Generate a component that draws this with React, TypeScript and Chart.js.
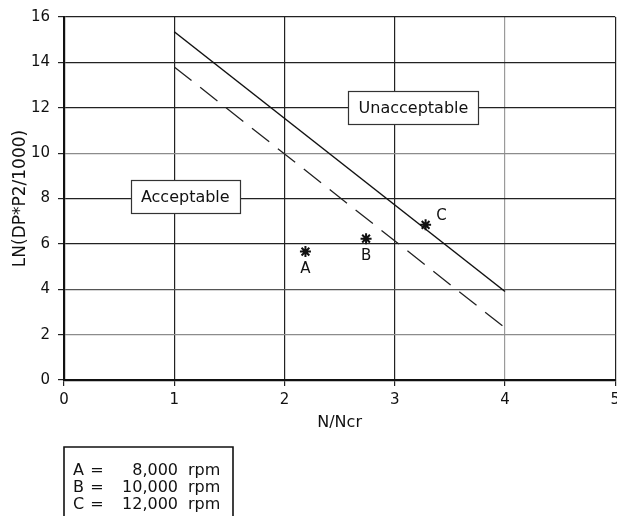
import React, { useEffect, useRef } from 'react';
import { Chart, registerables } from 'chart.js';

Chart.register(...registerables);

// ---- data ----
const xTickValues = [0, 1, 2, 3, 4, 5];
const yTickValues = [0, 2, 4, 6, 8, 10, 12, 14, 16];
const boundaryX = [1, 4];
const upperLimitY = [15.35, 3.9];
const lowerLimitY = [13.8, 2.3];
const pointNames = ['A', 'B', 'C'];
const pointX = [2.19, 2.74, 3.28];
const pointY = [5.66, 6.23, 6.84];
const speedNames = ['A', 'B', 'C'];
const speedValues = ['8,000', '10,000', '12,000'];
const speedUnit = 'rpm';
const regionNames = ['Acceptable', 'Unacceptable'];
const regionX = [1.1, 3.17];
const regionY = [8.07, 11.99];

const FONT = '"DejaVu Sans", sans-serif';
const CANVAS_W = 625;

const overlayPlugin = {
  id: 'overlay',
  afterDraw(chart: any) {
    const ctx = chart.ctx;
    const xs = chart.scales.x;
    const ys = chart.scales.y;
    ctx.save();
    // region label boxes
    ctx.font = `16px ${FONT}`;
    regionNames.forEach((name, i) => {
      const cx = xs.getPixelForValue(regionX[i]);
      const cy = ys.getPixelForValue(regionY[i]);
      const w = Math.round(ctx.measureText(name).width + 20);
      const h = 33;
      const x0 = Math.round(cx - w / 2) + 0.5;
      const y0 = Math.round(cy - h / 2) + 0.5;
      ctx.fillStyle = '#fff';
      ctx.fillRect(x0, y0, w, h);
      ctx.strokeStyle = '#333';
      ctx.lineWidth = 1.2;
      ctx.strokeRect(x0, y0, w, h);
      ctx.fillStyle = '#111';
      ctx.textAlign = 'center';
      ctx.textBaseline = 'middle';
      ctx.fillText(name, cx, cy + 1);
    });
    // point labels
    const meta = chart.getDatasetMeta(2);
    const offsets = [[0, 18], [0, 17], [16, -9]];
    ctx.font = `15px ${FONT}`;
    ctx.fillStyle = '#111';
    ctx.textAlign = 'center';
    ctx.textBaseline = 'middle';
    meta.data.forEach((pt: any, i: number) => {
      ctx.fillText(pointNames[i], pt.x + offsets[i][0], pt.y + offsets[i][1]);
    });
    // speed legend box
    const left = chart.chartArea.left;
    const top = 447;
    const right = left + 169;
    ctx.strokeStyle = '#111';
    ctx.lineWidth = 1.6;
    ctx.beginPath();
    ctx.moveTo(left, chart.height);
    ctx.lineTo(left, top);
    ctx.lineTo(right, top);
    ctx.lineTo(right, chart.height);
    ctx.stroke();
    ctx.font = `16px ${FONT}`;
    ctx.textBaseline = 'middle';
    speedNames.forEach((n, i) => {
      const y = 471 + i * 17;
      ctx.textAlign = 'left';
      ctx.fillText(n, left + 9, y);
      ctx.textAlign = 'center';
      ctx.fillText('=', left + 33, y);
      ctx.textAlign = 'right';
      ctx.fillText(speedValues[i], left + 114, y);
      ctx.textAlign = 'left';
      ctx.fillText(speedUnit, left + 124, y);
    });
    ctx.restore();
  },
};

export default function App() {
  const ref = useRef<HTMLCanvasElement | null>(null);
  useEffect(() => {
    if (!ref.current) return;
    const yGridColor = (c: any) => {
      const v = c.tick ? c.tick.value : null;
      if (v === 10 || v === 2) return '#8c8c8c';
      if (v === 4) return '#555';
      return '#222';
    };
    const xGridColor = (c: any) => {
      const v = c.tick ? c.tick.value : null;
      if (v === 4) return '#9a9a9a';
      return '#222';
    };
    const chart = new Chart(ref.current, {
      type: 'scatter',
      data: {
        datasets: [
          {
            label: 'Upper limit',
            data: boundaryX.map((x, i) => ({ x, y: upperLimitY[i] })),
            showLine: true,
            borderColor: '#111',
            borderWidth: 1.5,
            pointRadius: 0,
          },
          {
            label: 'Lower limit',
            data: boundaryX.map((x, i) => ({ x, y: lowerLimitY[i] })),
            showLine: true,
            borderColor: '#222',
            borderWidth: 1.3,
            borderDash: [22, 11],
            pointRadius: 0,
          },
          {
            label: 'Operating points',
            data: pointX.map((x, i) => ({ x, y: pointY[i] })),
            showLine: false,
            pointStyle: 'star',
            pointRadius: 5.5,
            borderColor: '#111',
            backgroundColor: '#111',
            pointBorderWidth: 2,
          } as any,
        ],
      },
      options: {
        responsive: false,
        animation: false,
        devicePixelRatio: 1,
        layout: { padding: { left: 0, right: 0, top: 15, bottom: 82 } },
        plugins: { legend: { display: false }, tooltip: { enabled: false } },
        scales: {
          x: {
            type: 'linear',
            min: 0,
            max: 5,
            afterBuildTicks: (s: any) => {
              s.ticks = xTickValues.map((v) => ({ value: v }));
            },
            afterFit: (s: any) => {
              s.height = 54;
            },
            ticks: {
              color: '#111',
              font: { family: FONT, size: 15 },
              padding: 5,
              maxRotation: 0,
            },
            grid: { color: xGridColor, lineWidth: 1.2, tickLength: 6, tickColor: '#222' },
            border: { display: true, color: '#111', width: 2.2 },
            title: {
              display: true,
              text: 'N/Ncr',
              color: '#111',
              font: { family: FONT, size: 16 },
              padding: { top: 0, bottom: 2 },
            },
          },
          y: {
            type: 'linear',
            min: 0,
            max: 16,
            afterBuildTicks: (s: any) => {
              s.ticks = yTickValues.map((v) => ({ value: v }));
            },
            afterFit: (s: any) => {
              s.width = 64;
            },
            ticks: {
              color: '#111',
              font: { family: FONT, size: 15 },
              padding: 8,
            },
            grid: { color: yGridColor, lineWidth: 1.2, tickLength: 6, tickColor: '#222' },
            border: { display: true, color: '#111', width: 2.2 },
            title: {
              display: true,
              text: 'LN(DP*P2/1000)',
              color: '#111',
              font: { family: FONT, size: 17 },
              padding: { top: 10, bottom: 0 },
            },
          },
        },
      },
      plugins: [overlayPlugin],
    });
    return () => chart.destroy();
  }, []);
  return (
    <div
      style={{
        position: 'absolute',
        left: 0,
        top: 0,
        width: 617,
        height: 516,
        overflow: 'hidden',
        background: '#fff',
      }}
    >
      <canvas ref={ref} width={CANVAS_W} height={516} style={{ display: 'block' }} />
    </div>
  );
}
